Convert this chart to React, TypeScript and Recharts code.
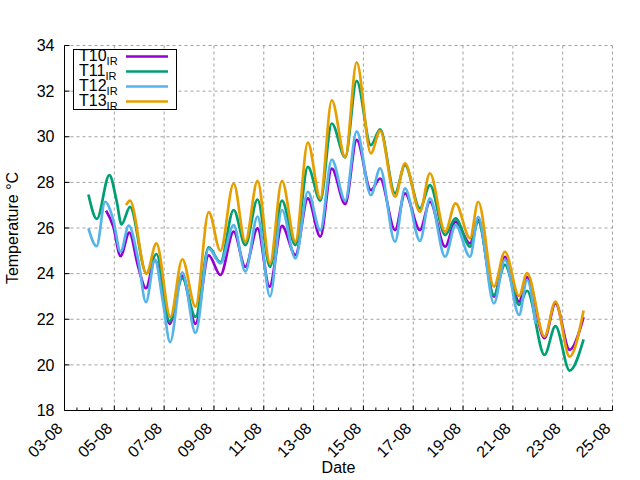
import { CartesianGrid, Label, Legend, Line, LineChart, XAxis, YAxis } from "recharts";

const FONT = '"Liberation Sans", Arial, Helvetica, sans-serif';

// time axis: days since 03-08 00:00
const t10Days = [1.67, 1.96, 2.25, 2.6, 2.96, 3.27, 3.63, 4.22, 4.73, 5.26, 5.79, 6.26, 6.79, 7.26, 7.75, 8.23, 8.73, 9.27, 9.77, 10.27, 10.73, 11.27, 11.73, 12.3, 12.67, 13.27, 13.67, 14.27, 14.67, 15.28, 15.7, 16.28, 16.61, 17.24, 17.68, 18.25, 18.57, 19.27, 19.71, 20.28, 20.84];
const t10Temps = [26.76, 26.06, 24.77, 25.8, 24.3, 23.36, 24.6, 21.8, 23.9, 21.8, 24.8, 23.94, 25.84, 24.3, 25.98, 23.43, 26.09, 24.82, 27.3, 25.62, 28.6, 27.05, 29.86, 27.66, 28.17, 25.91, 27.52, 25.91, 27.15, 25.18, 26.28, 25.33, 26.35, 22.99, 24.74, 22.77, 23.85, 21.17, 22.7, 20.66, 22.09];

const t11Days = [0.96, 1.3, 1.8, 2.09, 2.29, 2.63, 3.29, 3.69, 4.22, 4.73, 5.26, 5.79, 6.26, 6.79, 7.26, 7.75, 8.25, 8.73, 9.27, 9.77, 10.27, 10.73, 11.27, 11.73, 12.3, 12.67, 13.27, 13.67, 14.27, 14.67, 15.28, 15.7, 16.28, 16.61, 17.24, 17.68, 18.25, 18.57, 19.27, 19.71, 20.28, 20.84];
const t11Temps = [27.47, 26.4, 28.32, 27.2, 26.16, 26.93, 24.01, 24.86, 21.9, 23.8, 22.1, 25.15, 24.5, 26.79, 25.25, 27.25, 24.3, 27.2, 25.25, 28.68, 27.2, 30.58, 29.1, 32.45, 29.63, 30.32, 27.52, 28.76, 26.86, 27.88, 25.69, 26.42, 25.18, 26.28, 23.06, 24.38, 22.63, 23.25, 20.44, 21.7, 19.75, 21.12];

const t12Days = [0.96, 1.29, 1.63, 1.96, 2.25, 2.58, 2.96, 3.27, 3.63, 3.96, 4.24, 4.73, 5.26, 5.79, 6.26, 6.79, 7.26, 7.75, 8.25, 8.73, 9.27, 9.77, 10.27, 10.73, 11.27, 11.73, 12.3, 12.67, 13.27, 13.67, 14.27, 14.67, 15.28, 15.7, 16.28, 16.61, 17.24, 17.68, 18.25, 18.57, 18.91];
const t12Temps = [25.98, 25.2, 27.15, 26.35, 24.96, 26.1, 24.6, 22.75, 24.6, 22.7, 21.0, 24.06, 21.4, 25.1, 24.45, 26.13, 24.09, 26.5, 23.0, 26.79, 24.67, 27.59, 25.9, 29.0, 27.2, 30.24, 27.44, 28.61, 25.4, 27.74, 25.44, 27.3, 24.74, 26.13, 24.74, 26.49, 22.7, 24.6, 22.19, 23.72, 21.8];

const t13Days = [2.47, 2.63, 3.29, 3.69, 4.25, 4.73, 5.26, 5.79, 6.26, 6.79, 7.26, 7.75, 8.25, 8.73, 9.27, 9.77, 10.27, 10.73, 11.27, 11.73, 12.3, 12.67, 13.27, 13.67, 14.27, 14.67, 15.28, 15.7, 16.28, 16.61, 17.24, 17.68, 18.25, 18.57, 19.27, 19.71, 20.28, 20.84];
const t13Temps = [27.0, 27.2, 24.0, 25.33, 22.1, 24.63, 22.55, 26.7, 25.0, 27.95, 25.4, 28.07, 24.45, 28.07, 25.4, 29.74, 27.3, 31.6, 29.1, 33.26, 29.27, 30.26, 27.37, 28.83, 26.71, 28.4, 25.84, 27.08, 25.55, 27.15, 23.43, 24.96, 23.02, 24.02, 21.24, 22.77, 20.36, 22.38];

const dayTicks = [0, 2, 4, 6, 8, 10, 12, 14, 16, 18, 20, 22];
const dayLabels = ["03-08", "05-08", "07-08", "09-08", "11-08", "13-08", "15-08", "17-08", "19-08", "21-08", "23-08", "25-08"];
const halfDayTicks = Array.from({ length: 45 }, (_, i) => i / 2);
const tempTicks = [18, 20, 22, 24, 26, 28, 30, 32, 34];

const series = [
  { name: "T10", color: "#9400d3", days: t10Days, temps: t10Temps },
  { name: "T11", color: "#009e73", days: t11Days, temps: t11Temps },
  { name: "T12", color: "#56b4e9", days: t12Days, temps: t12Temps },
  { name: "T13", color: "#e69f00", days: t13Days, temps: t13Temps }
];

function toPoints(days: number[], temps: number[]) {
  return days.map((day, i) => ({ day, temp: temps[i] }));
}

function BottomTick({ x, y, payload }: any) {
  const idx = dayTicks.indexOf(payload.value);
  const major = idx >= 0;
  const lx = x - 1;
  const ly = y + 19;
  return (
    <g>
      <line x1={x} x2={x} y1={y} y2={y - (major ? 5 : 3)} stroke="#000" />
      {major ? (
        <text
          x={lx}
          y={ly}
          textAnchor="end"
          fontSize={16}
          fontFamily={FONT}
          fill="#000"
          transform={`rotate(-45 ${lx} ${ly})`}
        >
          {dayLabels[idx]}
        </text>
      ) : null}
    </g>
  );
}

function TopTick({ x, y, payload }: any) {
  const major = dayTicks.includes(payload.value);
  return <line x1={x} x2={x} y1={y} y2={y + (major ? 5 : 3)} stroke="#000" />;
}

function LeftTick({ x, y, payload }: any) {
  return (
    <g>
      <line x1={x} x2={x + 5} y1={y} y2={y} stroke="#000" />
      <text x={x - 10} y={y + 5.7} textAnchor="end" fontSize={16} fontFamily={FONT} fill="#000">
        {payload.value}
      </text>
    </g>
  );
}

function RightTick({ x, y }: any) {
  return <line x1={x - 5} x2={x} y1={y} y2={y} stroke="#000" />;
}

function LegendBox({ payload }: any) {
  const rows = payload ?? [];
  return (
    <svg width={104} height={61} style={{ display: "block" }}>
      <rect x={0.5} y={0.5} width={103} height={60} fill="#fff" stroke="#000" />
      {rows.map((entry: any, i: number) => (
        <g key={entry.value}>
          <text x={6} y={12.4 + 15 * i} fontSize={16} fontFamily={FONT} fill="#000">
            {entry.value}
            <tspan fontSize={11} dy={3.2}>
              IR
            </tspan>
          </text>
          <line x1={53} x2={95} y1={7.4 + 15 * i} y2={7.4 + 15 * i} stroke={entry.color} strokeWidth={2.5} />
        </g>
      ))}
    </svg>
  );
}

export default function App() {
  return (
    <div style={{ position: "absolute", left: 0, top: 0, width: 640, height: 480, background: "#fff", fontFamily: FONT }}>
      <LineChart width={640} height={480} margin={{ top: 45.5, right: 27.5, bottom: 0, left: 0.5 }}>
        <CartesianGrid
          xAxisId="bottom"
          yAxisId="left"
          stroke="#a0a0a0"
          strokeDasharray="3 3"
          verticalValues={dayTicks}
          horizontalValues={tempTicks}
        />
        <XAxis
          xAxisId="bottom"
          dataKey="day"
          type="number"
          domain={[0, 22]}
          allowDataOverflow
          ticks={halfDayTicks}
          interval={0}
          tickSize={0}
          tickMargin={0}
          tickLine={false}
          tick={<BottomTick />}
          axisLine={{ stroke: "#000" }}
          height={69.5}
        >
          <Label value="Date" position="insideBottom" offset={7} fontSize={16} fontFamily={FONT} fill="#000" />
        </XAxis>
        <XAxis
          xAxisId="top"
          orientation="top"
          type="number"
          domain={[0, 22]}
          allowDataOverflow
          ticks={halfDayTicks}
          interval={0}
          tickSize={0}
          tickMargin={0}
          tickLine={false}
          tick={<TopTick />}
          axisLine={{ stroke: "#000" }}
          height={0}
        >
          <Label
            value="Températures de paroi IR au 23/08/2026"
            position="top"
            offset={19}
            fontSize={16}
            fontFamily={FONT}
            fill="#000"
          />
        </XAxis>
        <YAxis
          yAxisId="left"
          type="number"
          domain={[18, 34]}
          allowDataOverflow
          ticks={tempTicks}
          interval={0}
          tickSize={0}
          tickMargin={0}
          tickLine={false}
          tick={<LeftTick />}
          axisLine={{ stroke: "#000" }}
          width={64}
        >
          <Label
            content={({ viewBox }: any) => {
              const cx = (viewBox?.x ?? 0) + 17;
              const cy = (viewBox?.y ?? 45.5) + (viewBox?.height ?? 365) / 2;
              return (
                <text
                  x={cx}
                  y={cy}
                  textAnchor="middle"
                  fontSize={16}
                  fontFamily={FONT}
                  fill="#000"
                  transform={`rotate(-90 ${cx} ${cy})`}
                >
                  Temperature °C
                </text>
              );
            }}
          />
        </YAxis>
        <YAxis
          yAxisId="right"
          orientation="right"
          type="number"
          domain={[18, 34]}
          allowDataOverflow
          ticks={tempTicks}
          interval={0}
          tickSize={0}
          tickMargin={0}
          tickLine={false}
          tick={<RightTick />}
          axisLine={{ stroke: "#000" }}
          width={0}
        />
        <Legend
          layout="vertical"
          align="center"
          verticalAlign="middle"
          content={<LegendBox />}
          wrapperStyle={{ left: 73, top: 49, width: 104, height: 61 }}
        />
        {series.map((s) => (
          <Line
            key={s.name}
            xAxisId="bottom"
            yAxisId="left"
            name={s.name}
            data={toPoints(s.days, s.temps)}
            dataKey="temp"
            type="monotone"
            stroke={s.color}
            strokeWidth={2.7}
            dot={false}
            activeDot={false}
            isAnimationActive={false}
          />
        ))}
      </LineChart>
    </div>
  );
}
